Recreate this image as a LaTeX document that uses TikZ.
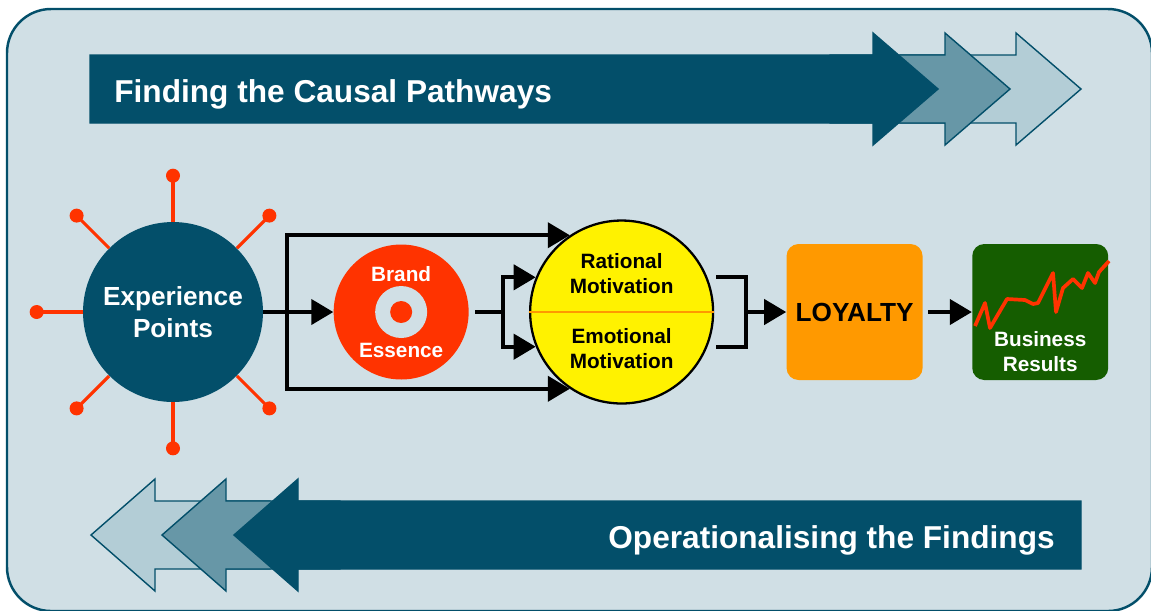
\documentclass[tikz,border=0pt]{standalone}
\usepackage{fontspec}
\setmainfont{Liberation Sans}
\usetikzlibrary{positioning,arrows.meta}

\definecolor{panel}{HTML}{D0DFE5}
\definecolor{deepteal}{HTML}{034F6A}
\definecolor{midteal}{HTML}{6797A7}
\definecolor{paleteal}{HTML}{B3CDD6}
\definecolor{hotred}{HTML}{FF3300}
\definecolor{loyalorange}{HTML}{FF9900}
\definecolor{bizgreen}{HTML}{155D00}

\begin{document}
\begin{tikzpicture}[
    x=0.02cm, y=-0.02cm,
    bold/.style={font=\bfseries\fontsize{11.8}{14.2}\selectfont,align=center,inner sep=0pt},
    bigbold/.style={bold,font=\bfseries\fontsize{14.9}{18.2}\selectfont},
    banner/.style={text=white,inner sep=0pt,font=\bfseries\fontsize{18}{21}\selectfont},
    hub/.style={circle,fill=deepteal,minimum size=3.6cm,bigbold,text=white},
    spoke/.style={hotred,line width=1.8pt},
    tipdot/.style={circle,fill=hotred,minimum size=0.28cm,inner sep=0pt},
    essence/.style={circle,fill=hotred,minimum size=2.7cm,inner sep=0pt},
    motive/.style={circle,fill=yellow,draw=black,line width=1.3pt,minimum size=3.66cm,inner sep=0pt},
    stage/.style={rounded corners=0.24cm,minimum width=2.72cm,minimum height=2.72cm,inner sep=0pt},
    wire/.style={line width=2.3pt},
    link/.style={wire,-{Triangle[length=0.44cm,width=0.5cm]}}
]
\useasboundingbox (0,0) rectangle (1151,610);

% panel
\draw[fill=panel,draw=deepteal,line width=1.4pt,rounded corners=0.88cm] (7,9) rectangle (1152,611);

% top banner, back arrow first
\foreach \hx/\sx/\col in {1016/900/paleteal, 945/830/midteal, 873/90/deepteal}
  \filldraw[fill=\col,draw=deepteal,line width=0.8pt] (\sx,55) -- (\hx,55) -- (\hx,33) -- ({\hx+65},89) -- (\hx,145) -- (\hx,123) -- (\sx,123) -- cycle;
\node[banner,anchor=base west] (findings) at (114,102) {Finding the Causal Pathways};

% bottom banner, pointing back
\foreach \hx/\sx/\col in {155/270/paleteal, 226/340/midteal, 298/1081/deepteal}
  \filldraw[fill=\col,draw=deepteal,line width=0.8pt] (\sx,501) -- (\hx,501) -- (\hx,479) -- ({\hx-64},535) -- (\hx,591) -- (\hx,569) -- (\sx,569) -- cycle;
\node[banner,anchor=base east] (actions) at (1055,548) {Operationalising the Findings};

% experience hub with spokes (none on the outgoing side)
\node[hub] (exp) at (173,312) {Experience\\Points};
\foreach \a in {45,90,...,315}
  \draw[spoke] (exp.\a) -- ++(\a:0.92cm) node[tipdot] (tip\a) {};

% brand essence
\node[essence,right=1.4cm of exp] (brand) {};
\fill[panel] (brand.center) circle (0.52cm);
\fill[hotred] (brand.center) circle (0.22cm);
\node[bold,text=white] (brandtop) at ([yshift=0.76cm]brand.center) {Brand};
\node[bold,text=white] (brandbot) at ([yshift=-0.76cm]brand.center) {Essence};

% motivation
\node[motive,right=1.2cm of brand] (mot) {};
\draw[loyalorange,line width=1pt] (mot.west) -- (mot.east);
\node[bold] (rat) at ([yshift=0.77cm]mot.center) {Rational\\Motivation};
\node[bold] (emo) at ([yshift=-0.74cm]mot.center) {Emotional\\Motivation};

% loyalty and results
\node[stage,fill=loyalorange,right=1.44cm of mot,bigbold] (loyal) {LOYALTY};
\node[stage,fill=bizgreen,right=0.98cm of loyal] (biz) {};
\draw[hotred,line width=2.1pt,line join=round] (975,326) -- (985,303) -- (990,328) -- (1007,299) -- (1025,300)
  -- (1033,304) -- (1038,303) -- (1043,293) -- (1053,273) -- (1056,312) -- (1063,288) -- (1073,279)
  -- (1082,288) -- (1088,273) -- (1095,283) -- (1099,272) -- (1109,261);
\node[bold,text=white] (bizlbl) at ([yshift=-0.8cm]biz.center) {Business\\Results};

% connectors
\coordinate (split) at (287,312);
\draw[link] (exp) -- (brand);
\draw[link] (split) |- (mot.124);
\draw[link] (split) |- (mot.236);

\coordinate (fork) at (503,312);
\draw[wire,shorten <=0.12cm] (brand) -- (fork);
\draw[link] (fork) |- (mot.158);
\draw[link] (fork) |- (mot.202);

\coordinate (merge) at (746,312);
\draw[wire] ([xshift=0.18cm]mot.22) -| (merge) |- ([xshift=0.18cm]mot.-22);
\draw[link] (merge) -- (loyal);
\draw[link,shorten <=0.1cm] (loyal) -- (biz);

\end{tikzpicture}
\end{document}
